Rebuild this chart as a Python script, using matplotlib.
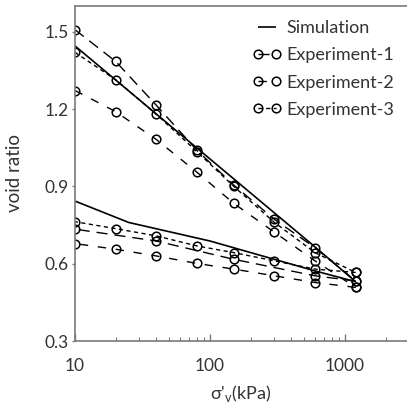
import matplotlib
matplotlib.use("Agg")
import matplotlib.pyplot as plt
from matplotlib.ticker import LogLocator, FixedLocator, NullFormatter

plt.rcParams['font.family'] = ['Lato', 'DejaVu Sans']

# Simulation
sim_load_x = [10, 600, 1200]
sim_load_y = [1.445, 0.665, 0.53]
sim_unload_x = [1200, 600, 100, 25, 10]
sim_unload_y = [0.53, 0.572, 0.688, 0.76, 0.843]

# Experiment-1 (long dash)
e1_load_x = [10, 20, 40, 80, 150, 300, 600, 1200]
e1_load_y = [1.508, 1.385, 1.215, 1.04, 0.905, 0.772, 0.662, 0.533]
e1_unload_x = [1200, 600, 150, 40, 10]
e1_unload_y = [0.533, 0.553, 0.617, 0.688, 0.734]

# Experiment-2 (medium dash)
e2_load_x = [10, 20, 40, 80, 150, 300, 600, 1200]
e2_load_y = [1.272, 1.19, 1.082, 0.955, 0.834, 0.722, 0.611, 0.508]
e2_unload_x = [1200, 600, 300, 150, 80, 40, 20, 10]
e2_unload_y = [0.508, 0.527, 0.553, 0.579, 0.601, 0.63, 0.656, 0.678]

# Experiment-3 (short dash)
e3_load_x = [10, 20, 40, 80, 150, 300, 600, 1200]
e3_load_y = [1.42, 1.314, 1.18, 1.035, 0.9, 0.76, 0.643, 0.566]
e3_unload_x = [1200, 600, 300, 150, 80, 40, 20, 10]
e3_unload_y = [0.566, 0.579, 0.611, 0.643, 0.669, 0.708, 0.736, 0.763]

xticks = [10, 100, 1000]
yticks = [0.3, 0.6, 0.9, 1.2, 1.5]

fig = plt.figure(figsize=(4.07, 4.03), dpi=100)
ax = fig.add_axes([75/407, 62/403, 1 - 75/407, (341 - 6)/403])

sim_kw = dict(color='black', lw=1.2, solid_capstyle='butt')
ax.plot(sim_load_x, sim_load_y, label='Simulation', **sim_kw)
ax.plot(sim_unload_x, sim_unload_y, **sim_kw)

mk = dict(marker='o', markersize=6.2, markerfacecolor='none', markeredgecolor='black',
          markeredgewidth=1.1, color='black', lw=1.0)
ax.plot(e1_load_x, e1_load_y, dashes=(8, 5), label='Experiment-1', **mk)
ax.plot(e1_unload_x, e1_unload_y, dashes=(8, 5), **mk)
ax.plot(e2_load_x, e2_load_y, dashes=(6, 7), label='Experiment-2', **mk)
ax.plot(e2_unload_x, e2_unload_y, dashes=(6, 7), **mk)
ax.plot(e3_load_x, e3_load_y, dashes=(3, 2.5), label='Experiment-3', **mk)
ax.plot(e3_unload_x, e3_unload_y, dashes=(3, 2.5), **mk)

ax.set_xscale('log')
ax.set_xlim(10, 2880)
ax.set_ylim(0.3, 1.6)
ax.xaxis.set_major_locator(FixedLocator(xticks))
ax.set_xticklabels([str(t) for t in xticks])
ax.xaxis.set_minor_locator(LogLocator(base=10, subs=range(2, 10)))
ax.xaxis.set_minor_formatter(NullFormatter())
ax.set_yticks(yticks)
ax.set_yticklabels([f"{t:.1f}" for t in yticks])

for s in ['left', 'bottom', 'top']:
    ax.spines[s].set_color('#7a7a7a')
    ax.spines[s].set_linewidth(1.2)
ax.spines['right'].set_visible(False)

ax.tick_params(axis='x', which='major', direction='in', length=5, width=1, color='#7a7a7a',
               labelsize=12.5, pad=12, labelcolor='#333333')
ax.tick_params(axis='x', which='minor', direction='in', length=3, width=0.8, color='#7a7a7a')
ax.tick_params(axis='y', direction='out', length=2, width=1, color='#7a7a7a',
               labelsize=12.5, pad=2.5, labelcolor='#333333')

ax.set_xlabel("σ'$_\\mathregular{v}$(kPa)", fontsize=13, color='#333333')
ax.set_ylabel("void ratio", fontsize=13.5, color='#333333')
ax.xaxis.set_label_coords(0.5, -0.125)
ax.yaxis.set_label_coords(-0.158, 0.5)

leg = ax.legend(loc='upper right', bbox_to_anchor=(0.995, 0.99), frameon=False,
                fontsize=13, handlelength=1.6, handletextpad=0.3, labelspacing=0.62,
                numpoints=2, borderaxespad=0.2)
for t in leg.get_texts():
    t.set_color('#333333')

fig.savefig('out.png', dpi=100)
